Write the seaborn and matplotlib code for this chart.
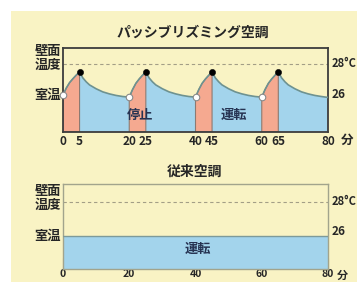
import numpy as np
import pandas as pd
import seaborn as sns
import matplotlib.pyplot as plt
from matplotlib.patches import Rectangle

# wall temperature of the "passive rhythm" system
minutes = [0, 1, 2, 3, 4, 5, 6, 7, 8, 10, 12, 14, 16, 18,
           20, 21, 22, 23, 24, 25, 26, 27, 28, 30, 32, 34, 36, 38,
           40, 41, 42, 43, 44, 45, 46, 47, 48, 50, 52, 54, 56, 58,
           60, 61, 62, 63, 64, 65, 66, 67, 68, 70, 72, 74, 76, 78, 80]
wall_temp = [26.0, 26.45, 26.8, 27.05, 27.28, 27.48, 27.1, 26.85, 26.65, 26.4, 26.2, 26.07, 25.97, 25.9,
             25.86, 26.35, 26.75, 27.03, 27.27, 27.48, 27.1, 26.85, 26.65, 26.4, 26.2, 26.07, 25.97, 25.9,
             25.86, 26.35, 26.75, 27.03, 27.27, 27.48, 27.1, 26.85, 26.65, 26.4, 26.2, 26.07, 25.97, 25.9,
             25.86, 26.35, 26.75, 27.03, 27.27, 27.48, 27.1, 26.85, 26.65, 26.4, 26.2, 26.07, 25.97, 25.9, 25.84]
run_starts = [0, 20, 40, 60]
run_ends = [5, 25, 45, 65]
top_ticks = [0, 5, 20, 25, 40, 45, 60, 65, 80]

# conventional system: flat at room temperature
conv_minutes = [0, 80]
conv_temp = [26, 26]
bottom_ticks = [0, 20, 40, 60, 80]

bg = "#f9f3c4"
salmon = "#f5a990"
blue = "#a3d4ec"
curve = "#6e9290"
ink = "#262626"
navy = "#263352"

sns.set_theme(style="white")
plt.rcParams['font.family'] = ['Noto Sans CJK JP', 'DejaVu Sans']

fig = plt.figure(figsize=(3.57, 2.82), dpi=100)
fig.patch.set_facecolor("white")
fig.patches.append(Rectangle((11 / 357, 0), 346 / 357, 271 / 282,
                             transform=fig.transFigure, facecolor=bg,
                             edgecolor="none", zorder=-10))

df = pd.DataFrame({"min": minutes, "temp": wall_temp})
t = df["min"].to_numpy()
on = np.zeros(len(t), bool)
inside = np.zeros(len(t), bool)
for s, e in zip(run_starts, run_ends):
    on |= (t >= s) & (t <= e)
    inside |= (t > s) & (t < e)

# ---- top panel
ax = fig.add_axes([63 / 357, 1 - 132 / 282, 265 / 357, 84 / 282])
ax.set_facecolor(bg)
lo, hi = 23.61, 29.03
ax.set_xlim(0, 80)
ax.set_ylim(lo, hi)
ax.fill_between(t, lo, df["temp"], where=~inside, color=blue, lw=0, zorder=1)
ax.fill_between(t, lo, df["temp"], where=on, facecolor=salmon,
                edgecolor="#8c7a72", lw=0.8, zorder=2)
ax.axhline(28, color="#a39e86", lw=0.8, ls=(0, (3, 2.5)), zorder=1)
sns.lineplot(data=df, x="min", y="temp", ax=ax, color=curve, lw=1.2, zorder=3)
starts = df[df["min"].isin(run_starts)]
peaks = df[df["min"].isin(run_ends)]
sns.scatterplot(data=starts, x="min", y="temp", ax=ax, color="white",
                edgecolor="#8a8a8a", s=22, linewidth=0.8, zorder=4, clip_on=False)
sns.scatterplot(data=peaks, x="min", y="temp", ax=ax, color="black",
                edgecolor="black", s=20, zorder=4)
ax.text(23.3, 24.71, "停止", ha="center", va="center", fontsize=9.5,
        fontweight="bold", color=navy, zorder=5)
ax.text(51.7, 24.71, "運転", ha="center", va="center", fontsize=9.5,
        fontweight="bold", color=navy, zorder=5)
ax.set_xticks(top_ticks)
ax.set_xticklabels([str(v) for v in top_ticks])
ax.set_yticks([])
ax.tick_params(axis="x", length=0, pad=2, labelsize=8.5, labelcolor=ink)
for lab in ax.get_xticklabels():
    lab.set_fontweight("bold")
ax.text(85.8, -0.1, "分", transform=ax.get_xaxis_transform(), ha="center",
        va="center", fontsize=9, fontweight="bold", color=ink)
for sp in ax.spines.values():
    sp.set_color("#3c3c3c")
    sp.set_linewidth(1.3)
ax.set_xlabel("")
ax.set_ylabel("")

# ---- bottom panel
ax2 = fig.add_axes([63 / 357, 1 - 269 / 282, 265 / 357, 85 / 282])
ax2.set_facecolor(bg)
lo2, hi2 = 24.11, 29.03
ax2.set_xlim(0, 80)
ax2.set_ylim(lo2, hi2)
conv = pd.DataFrame({"min": conv_minutes, "temp": conv_temp})
ax2.fill_between(conv["min"], lo2, conv["temp"], color=blue, lw=0, zorder=1)
sns.lineplot(data=conv, x="min", y="temp", ax=ax2, color="#7d9a9a", lw=1.0, zorder=3)
ax2.axhline(28, color="#a39e86", lw=0.8, ls=(0, (3, 2.5)), zorder=1)
ax2.text(40.8, 25.26, "運転", ha="center", va="center", fontsize=9.5,
         fontweight="bold", color=navy, zorder=5)
ax2.set_xticks(bottom_ticks)
ax2.set_xticklabels([str(v) for v in bottom_ticks])
ax2.set_yticks([])
ax2.tick_params(axis="x", direction="in", length=8, width=0.8, color="#86a9c0",
                pad=0, labelsize=7.5, labelcolor=ink, bottom=True)
for lab in ax2.get_xticklabels():
    lab.set_fontweight("bold")
ax2.text(84.5, -0.07, "分", transform=ax2.get_xaxis_transform(), ha="center",
         va="center", fontsize=8, fontweight="bold", color=ink)
for sp in ax2.spines.values():
    sp.set_color("#a2a48c")
    sp.set_linewidth(1.0)
ax2.set_xlabel("")
ax2.set_ylabel("")

# side labels
for a, wall_y, room_y in ((ax, 28.39, 26.0), (ax2, 28.2, 26.28)):
    tr = a.get_yaxis_transform()
    a.text(-0.008, wall_y, "壁面\n温度", transform=tr, ha="right", va="center",
           fontsize=9.5, fontweight="bold", color=ink, linespacing=1.0)
    a.text(-0.008, 26, "室温", transform=tr, ha="right", va="center",
           fontsize=9.5, fontweight="bold", color=ink)
    a.text(1.015, 28, "28°C", transform=tr, ha="left", va="center",
           fontsize=8, fontweight="bold", color=ink)
    a.text(1.015, room_y, "26", transform=tr, ha="left", va="center",
           fontsize=8.5, fontweight="bold", color=ink)

fig.text(192.5 / 357, 1 - 33 / 282, "パッシブリズミング空調", ha="center",
         va="center", fontsize=10, fontweight="bold", color=ink)
fig.text(195 / 357, 1 - 172 / 282, "従来空調", ha="center", va="center",
         fontsize=10, fontweight="bold", color=ink)

fig.savefig("out.png", dpi=100, facecolor=fig.get_facecolor())
